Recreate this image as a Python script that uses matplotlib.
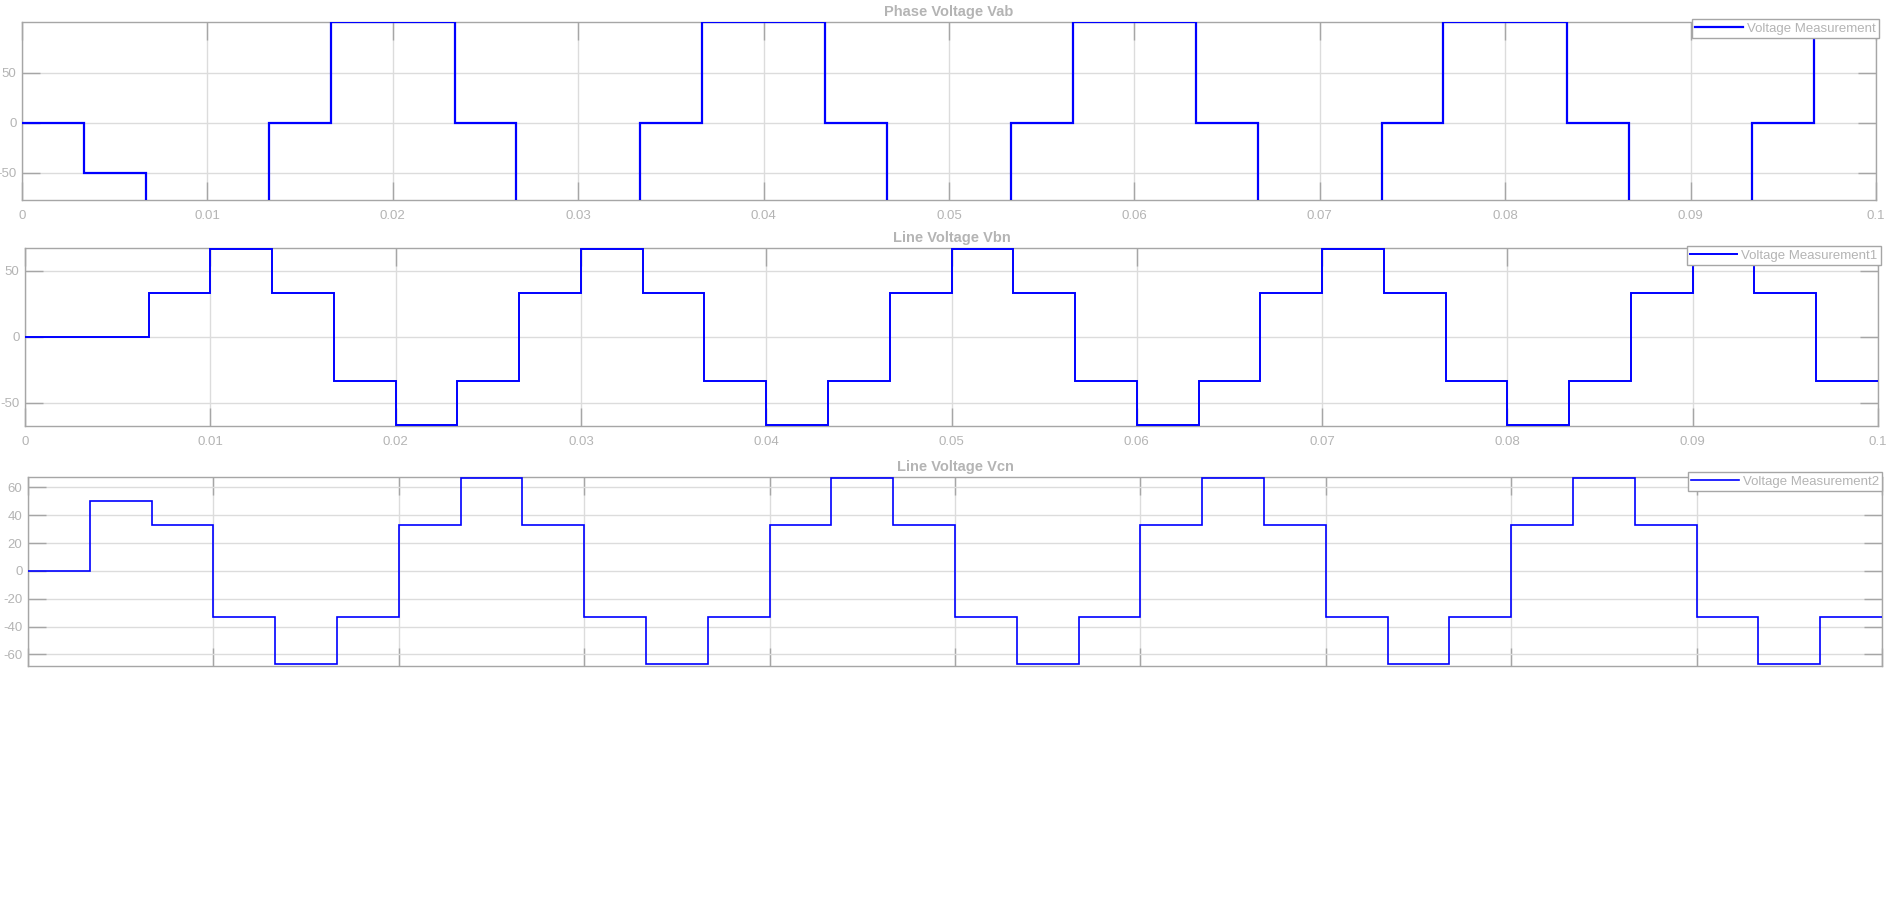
"""
Scope print of three inverter voltages: Vab, Vbn, Vcn over 0.1 s.
"""

import matplotlib
matplotlib.use("Agg")
import matplotlib.pyplot as plt
from matplotlib.patches import Rectangle

plt.rcParams['font.family'] = ['Liberation Sans', 'DejaVu Sans']
plt.rcParams['axes.unicode_minus'] = False

# step edges in ms and the level held between consecutive edges
vab_edges_ms = [0, 3.333, 6.667, 13.333, 16.667, 23.333, 26.667, 33.333,
                36.667, 43.333, 46.667, 53.333, 56.667, 63.333, 66.667,
                73.333, 76.667, 83.333, 86.667, 93.333, 96.667, 100]
vab_levels = [0, -50, -100, 0, 100, 0, -100, 0, 100, 0, -100, 0, 100, 0,
              -100, 0, 100, 0, -100, 0, 100]

vbn_edges_ms = [0, 6.667, 10, 13.333, 16.667, 20, 23.333, 26.667, 30,
                33.333, 36.667, 40, 43.333, 46.667, 50, 53.333, 56.667, 60,
                63.333, 66.667, 70, 73.333, 76.667, 80, 83.333, 86.667, 90,
                93.333, 96.667, 100]
vbn_levels = [0, 33.33, 66.67, 33.33, -33.33, -66.67, -33.33,
              33.33, 66.67, 33.33, -33.33, -66.67, -33.33,
              33.33, 66.67, 33.33, -33.33, -66.67, -33.33,
              33.33, 66.67, 33.33, -33.33, -66.67, -33.33,
              33.33, 66.67, 33.33, -33.33]

vcn_edges_ms = [0, 3.333, 6.667, 10, 13.333, 16.667, 20, 23.333, 26.667, 30,
                33.333, 36.667, 40, 43.333, 46.667, 50, 53.333, 56.667, 60,
                63.333, 66.667, 70, 73.333, 76.667, 80, 83.333, 86.667, 90,
                93.333, 96.667, 100]
vcn_levels = [0, 50, 33.33, -33.33, -66.67, -33.33,
              33.33, 66.67, 33.33, -33.33, -66.67, -33.33,
              33.33, 66.67, 33.33, -33.33, -66.67, -33.33,
              33.33, 66.67, 33.33, -33.33, -66.67, -33.33,
              33.33, 66.67, 33.33, -33.33, -66.67, -33.33]

x_ticks = [0, 0.01, 0.02, 0.03, 0.04, 0.05, 0.06, 0.07, 0.08, 0.09, 0.1]
x_tick_labels = ['0', '0.01', '0.02', '0.03', '0.04', '0.05', '0.06',
                 '0.07', '0.08', '0.09', '0.1']

titles = ['Phase Voltage Vab', 'Line Voltage Vbn', 'Line Voltage Vcn']
legend_labels = ['Voltage Measurement', 'Voltage Measurement1',
                 'Voltage Measurement2']
y_ticks = [[-50, 0, 50], [-50, 0, 50], [-60, -40, -20, 0, 20, 40, 60]]

TEXT_GREY = '#b4b4b4'
EDGE_GREY = '#a6a6a6'
GRID_GREY = '#dcdcdc'

W, H = 1902, 906


def px_rect(left, right, top, bottom):
    """Axes rectangle in figure fractions from pixel edges."""
    return [left / W, 1 - bottom / H, (right - left) / W, (bottom - top) / H]


def main() -> None:
    fig = plt.figure(figsize=(W / 100, H / 100), dpi=100)

    rects = [px_rect(22, 1876, 22, 200),
             px_rect(25, 1878, 248, 426),
             px_rect(28, 1882, 477, 666)]
    ylims = [(-77, 100.4), (-67.6, 67.4), (-68.4, 67.5)]
    widths = [1.6, 1.4, 1.2]
    legend_corners = [(1879, 19), (1881, 246), (1882, 472)]
    series = [(vab_edges_ms, vab_levels),
              (vbn_edges_ms, vbn_levels),
              (vcn_edges_ms, vcn_levels)]

    for i, (edges_ms, levels) in enumerate(series):
        ax = fig.add_axes(rects[i])
        edges = [e / 1000 for e in edges_ms]
        ax.stairs(levels, edges, baseline=None, color='#0000ff',
                  linewidth=widths[i], label=legend_labels[i], zorder=3)
        ax.set_xlim(0, 0.1)
        ax.set_ylim(*ylims[i])
        ax.set_xticks(x_ticks)
        ax.set_xticklabels(x_tick_labels)
        ax.set_yticks(y_ticks[i])
        ax.grid(True, color=GRID_GREY, linewidth=1)
        ax.set_axisbelow(True)
        ax.tick_params(direction='in', length=13, width=1, color=EDGE_GREY,
                       labelcolor=TEXT_GREY, labelsize=9.5,
                       top=True, right=True)
        ax.tick_params(axis='x', pad=7)
        ax.tick_params(axis='y', pad=4)
        for spine in ax.spines.values():
            spine.set_color(EDGE_GREY)
            spine.set_linewidth(1)
        ax.set_title(titles[i], fontsize=10.5, fontweight='bold',
                     color=TEXT_GREY, pad=4)
        cx, cy = legend_corners[i]
        leg = ax.legend(loc='upper right',
                        bbox_to_anchor=(cx / W, 1 - cy / H),
                        bbox_transform=fig.transFigure,
                        fontsize=9.5, frameon=True, fancybox=False,
                        framealpha=1, borderpad=0.25, borderaxespad=0,
                        handlelength=3.6, handletextpad=0.3)
        leg.get_frame().set_edgecolor(EDGE_GREY)
        leg.get_frame().set_linewidth(1)
        for text in leg.get_texts():
            text.set_color(TEXT_GREY)
        leg.set_zorder(5)

    # the lower part of the print is blank, cutting through the last tick labels
    fig.add_artist(Rectangle((0, 0), 1, 1 - 675 / H,
                             transform=fig.transFigure, facecolor='white',
                             edgecolor='none', zorder=10))

    fig.savefig('out.png', dpi=100, facecolor='white')


if __name__ == '__main__':
    main()
